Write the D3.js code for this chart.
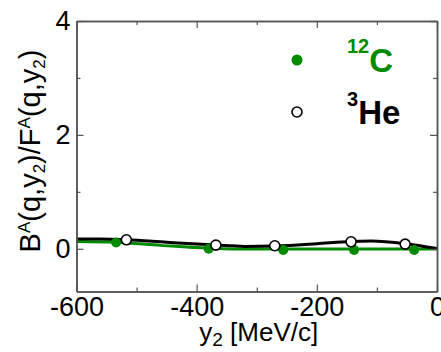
<!DOCTYPE html>
<html>
<head>
<meta charset="utf-8">
<script src="https://cdn.jsdelivr.net/npm/d3@7"></script>
<style>
  html, body { margin: 0; padding: 0; background: #fff; }
  svg { display: block; font-family: "Liberation Sans", Arial, sans-serif; }
</style>
</head>
<body>
<svg id="chart" width="441" height="352"></svg>
<script>
// ---- data ----
const xDomain = [-600, 0];
const yDomain = [-0.75, 4];
const xMajorTicks = [-600, -400, -200, 0];
const xMinorTicks = [-500, -300, -100];
const yMajorTicks = [0, 2, 4];
const yMinorTicks = [1, 3];

// 12C points (filled green)
const carbonX = [-534, -380, -256, -138, -38];
const carbonY = [0.11, 0.0, -0.02, -0.02, -0.02];
// 3He points (open black)
const heliumX = [-517, -368, -270, -143, -53];
const heliumY = [0.158, 0.065, 0.053, 0.123, 0.082];

// curves
const carbonLineX = [-600, -534, -460, -380, -300, -200, -100, 0];
const carbonLineY = [0.13, 0.115, 0.06, 0.01, -0.005, -0.005, -0.005, -0.005];
const heliumLineX = [-600, -560, -517, -450, -368, -320, -270, -200, -143, -110, -53, 0];
const heliumLineY = [0.17, 0.17, 0.158, 0.115, 0.065, 0.042, 0.05, 0.09, 0.13, 0.135, 0.09, 0.005];

const legendLabels = [
  { sup: "12", main: "C", color: "#008a00", filled: true },
  { sup: "3", main: "He", color: "#000", filled: false }
];

// ---- layout ----
const svg = d3.select("#chart");
const L = 76.5, R = 437, T = 21, B = 291.5;
const x = d3.scaleLinear().domain(xDomain).range([L, R]);
const y = d3.scaleLinear().domain(yDomain).range([B, T]);
const green = "#008a00";
const frameColor = "#555";
const fmt = d => String(d);

// lines
const line = d3.line().x(d => x(d[0])).y(d => y(d[1])).curve(d3.curveMonotoneX);
svg.append("path")
  .datum(d3.zip(carbonLineX, carbonLineY))
  .attr("d", line).attr("fill", "none").attr("stroke", green).attr("stroke-width", 3);
svg.append("path")
  .datum(d3.zip(heliumLineX, heliumLineY))
  .attr("d", line).attr("fill", "none").attr("stroke", "#000").attr("stroke-width", 3);

// points
svg.selectAll("circle.c").data(d3.zip(carbonX, carbonY)).join("circle")
  .attr("class", "c").attr("cx", d => x(d[0])).attr("cy", d => y(d[1]))
  .attr("r", 5).attr("fill", green);
svg.selectAll("circle.h").data(d3.zip(heliumX, heliumY)).join("circle")
  .attr("class", "h").attr("cx", d => x(d[0])).attr("cy", d => y(d[1]))
  .attr("r", 5).attr("fill", "#fff").attr("stroke", "#000").attr("stroke-width", 1.6);

// axes
function styleAxis(g) {
  g.select(".domain").attr("stroke", frameColor).attr("stroke-width", 1.5);
  g.selectAll(".tick line").attr("stroke", frameColor).attr("stroke-width", 1.2);
  g.selectAll(".tick text").attr("font-size", 27).attr("fill", "#000")
    .attr("font-family", "'Liberation Sans', Arial, sans-serif");
}
// major with labels
svg.append("g").attr("transform", `translate(0,${B})`)
  .call(d3.axisBottom(x).tickValues(xMajorTicks).tickFormat(fmt)
    .tickSizeInner(-7).tickSizeOuter(0).tickPadding(5))
  .call(styleAxis);
svg.append("g").attr("transform", `translate(0,${B})`)
  .call(d3.axisBottom(x).tickValues(xMinorTicks).tickFormat("")
    .tickSizeInner(-4).tickSizeOuter(0))
  .call(styleAxis);
svg.append("g").attr("transform", `translate(0,${T})`)
  .call(d3.axisTop(x).tickValues(xMajorTicks).tickFormat("").tickSizeInner(-7).tickSizeOuter(0))
  .call(styleAxis);
svg.append("g").attr("transform", `translate(0,${T})`)
  .call(d3.axisTop(x).tickValues(xMinorTicks).tickFormat("").tickSizeInner(-4).tickSizeOuter(0))
  .call(styleAxis);
svg.append("g").attr("transform", `translate(${L},0)`)
  .call(d3.axisLeft(y).tickValues(yMajorTicks).tickFormat(fmt)
    .tickSizeInner(-7).tickSizeOuter(0).tickPadding(6))
  .call(styleAxis);
svg.append("g").attr("transform", `translate(${L},0)`)
  .call(d3.axisLeft(y).tickValues(yMinorTicks).tickFormat("").tickSizeInner(-4).tickSizeOuter(0))
  .call(styleAxis);
svg.append("g").attr("transform", `translate(${R},0)`)
  .call(d3.axisRight(y).tickValues(yMajorTicks).tickFormat("").tickSizeInner(-7).tickSizeOuter(0))
  .call(styleAxis);
svg.append("g").attr("transform", `translate(${R},0)`)
  .call(d3.axisRight(y).tickValues(yMinorTicks).tickFormat("").tickSizeInner(-4).tickSizeOuter(0))
  .call(styleAxis);

// x label
const xl = svg.append("text").attr("x", (L + R) / 2 + 2).attr("y", 341)
  .attr("text-anchor", "middle").attr("font-size", 26).attr("fill", "#000");
xl.append("tspan").text("y");
xl.append("tspan").attr("font-size", 19).attr("dy", 5).text("2");
xl.append("tspan").attr("dy", -5).text(" [MeV/c]");

// y label
const yl = svg.append("text")
  .attr("transform", `translate(40,151) rotate(-90)`)
  .attr("text-anchor", "middle").attr("font-size", 29).attr("fill", "#000");
const parts = [
  ["B", 0], ["A", 1], ["(q,y", 0], ["2", -1], [")/F", 0], ["A", 1], ["(q,y", 0], ["2", -1], [")", 0]
];
let cur = 0;
parts.forEach(([t, k]) => {
  let target = k === 1 ? -10 : (k === -1 ? 5 : 0);
  const ts = yl.append("tspan").attr("dy", target - cur).text(t);
  if (k !== 0) ts.attr("font-size", 17);
  cur = target;
});

// legend
const legY = [60, 112];
legendLabels.forEach((d, i) => {
  svg.append("circle").attr("cx", 297).attr("cy", legY[i]).attr("r", d.filled ? 5.5 : 5)
    .attr("fill", d.filled ? d.color : "#fff")
    .attr("stroke", d.filled ? "none" : "#000").attr("stroke-width", 1.6);
});
const t1 = svg.append("text").attr("x", 347).attr("y", 72).attr("font-weight", "bold")
  .attr("fill", green).attr("font-size", 33);
t1.append("tspan").attr("font-size", 20).attr("dy", -19).text(legendLabels[0].sup);
t1.append("tspan").attr("dy", 19).text(legendLabels[0].main);
const t2 = svg.append("text").attr("x", 347).attr("y", 123.5).attr("font-weight", "bold")
  .attr("fill", "#000").attr("font-size", 33);
t2.append("tspan").attr("font-size", 20).attr("dy", -18).text(legendLabels[1].sup);
t2.append("tspan").attr("dy", 18).text(legendLabels[1].main);
</script>
</body>
</html>
